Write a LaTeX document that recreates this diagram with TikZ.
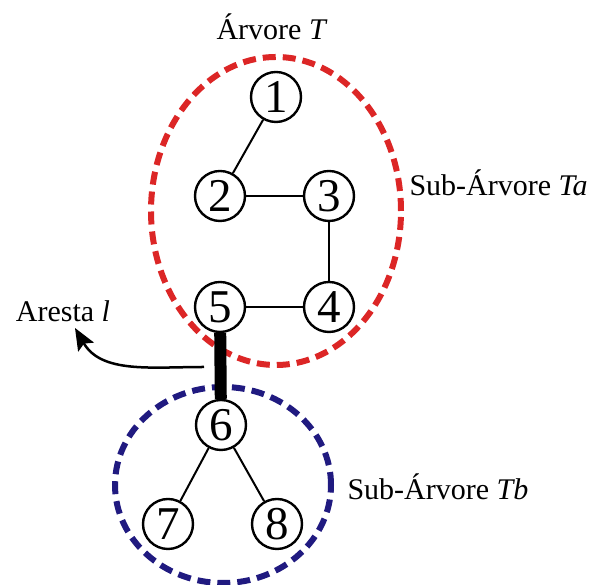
\documentclass[tikz,border=0pt]{standalone}
\usepackage{fontspec}
\setmainfont{Liberation Serif}
\usepackage{xcolor}
\usetikzlibrary{arrows.meta}

\definecolor{tared}{RGB}{220,38,38}
\definecolor{tbblue}{RGB}{32,26,128}

\tikzset{
  vertex/.style={circle,draw,line width=2.4pt,minimum size=50pt,inner sep=0pt,
    font=\fontsize{47}{47}\selectfont},
  edge/.style={line width=2pt},
  subtree/.style={line width=6pt,dash pattern=on 13pt off 7pt},
  lbl/.style={font=\fontsize{30}{34}\selectfont}
}

\begin{document}
\begin{tikzpicture}[x=1pt,y=1pt]
  \useasboundingbox (0,0) rectangle (592,585);

  % Subtree regions
  \draw[subtree,tared] (276,374) ellipse [x radius=125,y radius=154];
  \draw[subtree,tbblue] (223,100) ellipse [x radius=108,y radius=98];

  % Vertices
  \node[vertex,fill=white] (v1) at (276,488) {1};
  \node[vertex,fill=white] (v2) at (220,389) {2};
  \node[vertex,fill=white] (v3) at (329,389) {3};
  \node[vertex,fill=white] (v4) at (329,278) {4};
  \node[vertex,fill=white] (v5) at (220,278) {5};
  \node[vertex,fill=white] (v6) at (221,160) {6};
  \node[vertex,fill=white] (v7) at (168,61) {7};
  \node[vertex,fill=white] (v8) at (277,61) {8};

  % Edges
  \draw[edge] (v1) -- (v2);
  \draw[edge] (v2) -- (v3);
  \draw[edge] (v3) -- (v4);
  \draw[edge] (v4) -- (v5);
  \draw[edge] (v6) -- (v7);
  \draw[edge] (v6) -- (v8);
  \draw[line width=12pt] (v5) -- (v6);

  % Labels
  \node[lbl] (titleT) at (272,558) {Árvore \textit{T}};
  \node[lbl,anchor=west] (labelTa) at (406,402) {Sub-Árvore \textit{Ta}};
  \node[lbl,anchor=west] (labelTb) at (344,98) {Sub-Árvore \textit{Tb}};
  \node[lbl] (labelL) at (63,274) {Aresta \textit{l}};

  % Pointer to the cut edge
  \coordinate (lstart) at (204,218);
  \coordinate (ltip) at (75,257);
  \draw[line width=2.5pt,-{Stealth[length=22pt,width=18pt,inset=4pt]}] (lstart) to[out=180,in=-60] (ltip);
\end{tikzpicture}
\end{document}
